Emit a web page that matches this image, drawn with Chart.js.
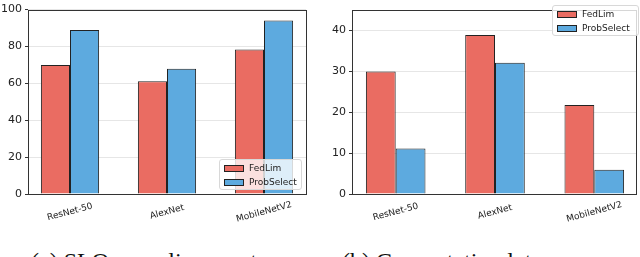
<!DOCTYPE html>
<html>
<head>
<meta charset="utf-8">
<script src="https://cdn.jsdelivr.net/npm/chart.js@4.4.0/dist/chart.umd.min.js"></script>
<style>
  body { margin: 0; background: #fff; width: 640px; height: 257px; overflow: hidden; position: relative; }
  canvas { position: absolute; top: 0; }
  .legend { position: absolute; background: rgba(255,255,255,0.8); border: 1px solid #d8d8d8; border-radius: 3px;
            font: 9px "DejaVu Sans", sans-serif; color: #222; box-sizing: border-box; padding: 2px 4px; }
  .legend div { height: 13.5px; line-height: 13.5px; white-space: nowrap; }
  .legend span { display: inline-block; width: 18px; height: 5px; border: 1px solid #222; margin-right: 5px; vertical-align: middle; }
  .caption { position: absolute; top: 249px; font: 24px "Liberation Serif", "DejaVu Serif", serif; color: #111; white-space: nowrap; line-height: 1; }
</style>
</head>
<body>
<canvas id="sloChart" width="320" height="232" style="left:0"></canvas>
<canvas id="latChart" width="320" height="232" style="left:320px"></canvas>

<div class="legend" style="left:219px;top:159px;width:83px;height:31px">
  <div><span style="background:#EA6C62"></span>FedLim</div>
  <div><span style="background:#5DAADF"></span>ProbSelect</div>
</div>
<div class="legend" style="left:552px;top:5px;width:87px;height:31px">
  <div><span style="background:#EA6C62"></span>FedLim</div>
  <div><span style="background:#5DAADF"></span>ProbSelect</div>
</div>

<div class="caption" style="left:31px">(a) SLO compliance rate</div>
<div class="caption" style="left:342px">(b) Computation latency</div>

<script>
const categories = ["ResNet-50", "AlexNet", "MobileNetV2"];
const sloFedLim = [70, 61.2, 78.4];
const sloProbSelect = [89, 67.9, 94.1];
const latFedLim = [29.9, 38.8, 21.7];
const latProbSelect = [11.1, 32, 5.9];
const sloTicks = [0, 20, 40, 60, 80, 100];
const latTicks = [0, 10, 20, 30, 40];

const red = "#EA6C62";
const blue = "#5DAADF";

// box around the plot, like matplotlib spines
const frame = {
  id: "frame",
  afterDatasetsDraw(chart) {
    const a = chart.chartArea;
    const ctx = chart.ctx;
    ctx.save();
    ctx.strokeStyle = "#333";
    ctx.lineWidth = 1;
    ctx.strokeRect(Math.round(a.left) + 0.5, Math.round(a.top) + 0.5,
      Math.round(a.right - a.left), Math.round(a.bottom - a.top));
    ctx.restore();
  },
};

// centered, rotated category labels
const rotatedLabels = {
  id: "rotatedLabels",
  afterDraw(chart) {
    const x = chart.scales.x;
    const ctx = chart.ctx;
    ctx.save();
    ctx.font = '9px "DejaVu Sans"';
    ctx.fillStyle = "#222";
    ctx.textAlign = "center";
    ctx.textBaseline = "middle";
    categories.forEach(function (c, i) {
      ctx.save();
      ctx.translate(x.getPixelForValue(i), x.top + 18);
      ctx.rotate(-15 * Math.PI / 180);
      ctx.fillText(c, 0, 0);
      ctx.restore();
    });
    ctx.restore();
  },
};

function toPoints(arr) {
  return arr.map(function (v, i) { return { x: i, y: v }; });
}

function makeChart(id, fed, prob, ticks, max, yWidth, xMin, xMax, padding) {
  return new Chart(document.getElementById(id).getContext("2d"), {
    type: "bar",
    data: {
      datasets: [
        { label: "FedLim", data: toPoints(fed), backgroundColor: red, borderColor: "#222", borderWidth: 1 },
        { label: "ProbSelect", data: toPoints(prob), backgroundColor: blue, borderColor: "#222", borderWidth: 1 },
      ],
    },
    options: {
      responsive: false,
      animation: false,
      layout: { padding: padding },
      datasets: { bar: { categoryPercentage: 0.6, barPercentage: 1.0 } },
      scales: {
        x: {
          type: "linear",
          offset: false,
          min: xMin,
          max: xMax,
          afterBuildTicks: function (s) {
            s.ticks = categories.map(function (c, i) { return { value: i }; });
          },
          grid: { display: false },
          border: { display: false },
          ticks: { display: false },
          afterFit: function (s) { s.height = 38; },
        },
        y: {
          min: 0,
          max: max,
          afterBuildTicks: function (s) {
            s.ticks = ticks.map(function (v) { return { value: v }; });
          },
          grid: { color: "#e6e6e6", tickColor: "#333", tickLength: 3 },
          border: { display: false },
          ticks: { color: "#222", padding: 3, font: { family: "DejaVu Sans", size: 11 } },
          afterFit: function (s) { s.width = yWidth; },
        },
      },
      plugins: { legend: { display: false }, tooltip: { enabled: false } },
    },
    plugins: [frame, rotatedLabels],
  });
}

makeChart("sloChart", sloFedLim, sloProbSelect, sloTicks, 100, 28, -0.433, 2.433,
  { top: 6, right: 14, left: 0, bottom: 0 });
makeChart("latChart", latFedLim, latProbSelect, latTicks, 45, 32, -0.44, 2.42,
  { top: 2, right: 4, left: 0, bottom: 0 });
</script>
</body>
</html>
